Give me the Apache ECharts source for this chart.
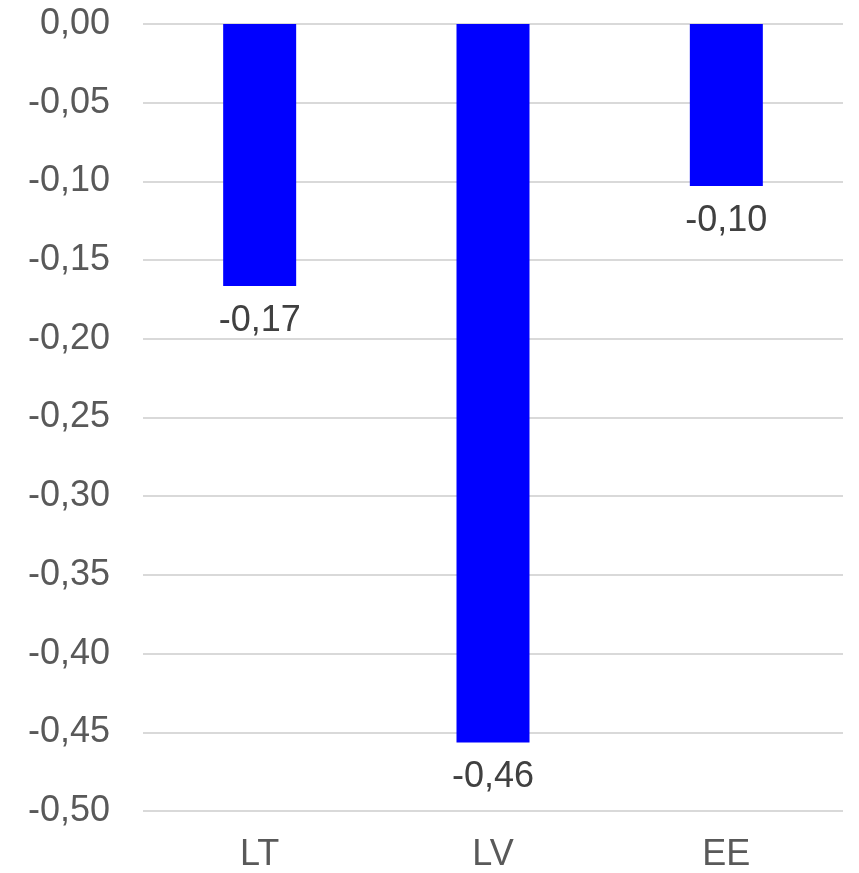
<!DOCTYPE html>
<html><head><meta charset="utf-8">
<script src="https://cdn.jsdelivr.net/npm/echarts@6/dist/echarts.min.js"></script>
<style>html,body{margin:0;padding:0;background:#fff}#c{width:859px;height:873px}</style>
</head><body><div id="c"></div>
<script>
const categories = ['LT', 'LV', 'EE'];
const values = [-0.1665, -0.4565, -0.103];
const yTicks = { min: -0.5, max: 0, interval: 0.05 };

const fmt = v => v.toFixed(2).replace('.', ',');
const chart = echarts.init(document.getElementById('c'));
chart.setOption({
  animation: false,
  grid: { left: 143, right: 16, top: 24, bottom: 59, containLabel: false },
  xAxis: {
    type: 'category', data: categories, position: 'bottom',
    axisLine: { show: false }, axisTick: { show: false },
    axisLabel: { color: '#595959', fontSize: 36, fontFamily: 'Liberation Sans, Arial', margin: 26 }
  },
  yAxis: {
    type: 'value', min: yTicks.min, max: yTicks.max, interval: yTicks.interval,
    axisLine: { show: false }, axisTick: { show: false },
    splitLine: { lineStyle: { color: '#d9d9d9', width: 2 } },
    axisLabel: { color: '#595959', fontSize: 36, fontFamily: 'Liberation Sans, Arial', margin: 33,
      formatter: v => fmt(v) }
  },
  series: [{
    type: 'bar', data: values, barWidth: 73,
    itemStyle: { color: '#0000ff' },
    label: { show: true, position: 'bottom', distance: 17, color: '#404040', fontSize: 36,
      fontFamily: 'Liberation Sans, Arial', formatter: p => fmt(p.value) }
  }]
});
</script></body></html>
